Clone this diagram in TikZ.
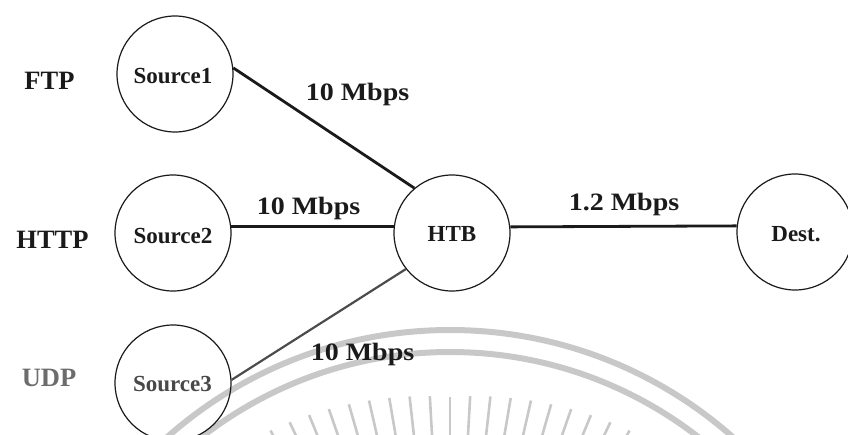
\documentclass[tikz,border=0pt]{standalone}
\usepackage{fontspec}
\setmainfont{Liberation Serif}
\newfontfamily\widefont[FakeStretch=1.12]{Liberation Serif}

\definecolor{ink}{HTML}{1A1A1A}
\definecolor{dimink}{HTML}{6C6C6C}
\definecolor{sealgrey}{HTML}{C8C8C8}

\tikzset{
  host/.style={circle, draw=ink, line width=1.2pt, minimum size=116pt, inner sep=0pt},
  hostname/.style={anchor=base, inner sep=0pt, text=ink,
    font=\fontsize{23}{23}\selectfont\bfseries},
  traffic/.style={anchor=base, inner sep=0pt, text=ink,
    font=\fontsize{26.5}{26.5}\selectfont\bfseries},
  rate/.style={anchor=base, inner sep=0pt, text=ink,
    font=\widefont\fontsize{25}{25}\selectfont\bfseries},
  link/.style={draw=ink, line width=2.8pt},
}

\begin{document}
\begin{tikzpicture}[x=1pt, y=-1pt]
  \useasboundingbox (0,0) rectangle (848,434);
  \clip (0,0) rectangle (848,434);

  % faint seal behind the network: two rings and a sunburst
  % (y grows downwards here, so the angle -90 points up the page)
  \coordinate (seal) at (450,757);
  \draw[sealgrey, line width=6pt] (seal) circle (427);
  \draw[sealgrey, line width=6pt] (seal) circle (405);
  \foreach \k in {-9,...,9}
    \draw[sealgrey, line width=2.6pt]
      ([shift={(seal)}]-90+3.2*\k:318) -- ([shift={(seal)}]-90+3.2*\k:{360+1.4*abs(\k)});

  % hosts
  \node[host] (s1)   at (175,74)  {};
  \node[host] (s2)   at (173,233) {};
  \node[host] (s3)   at (173,383) {};
  \node[host] (htb)  at (452,233) {};
  \node[host] (dest) at (795,232) {};

  \node[hostname] (s1name)   at (173,83.3)  {Source1};
  \node[hostname] (s2name)   at (173,243.3) {Source2};
  \node[hostname, text=ink!80] (s3name) at (172.5,391.7) {Source3};
  \node[hostname] (htbname)  at (452,241.7) {HTB};
  \node[hostname] (destname) at (796,241.7) {Dest.};

  % traffic types
  \node[traffic] (ftp)  at (49.5,89.3)  {FTP};
  \node[traffic] (http) at (52.5,248.3) {HTTP};
  \node[traffic, text=dimink] (udp) at (49,386.7) {UDP};

  % links
  \draw[link] (s1.6) -- (htb.130);
  \draw[link] (s2.6) -- (htb.174);
  \draw[link, draw=ink!78, line width=2.2pt] (s3.3) -- (htb.218);
  \draw[link] (htb.6) -- (dest.174);

  % link rates
  \node[rate] (r1) at (357.5,100)  {10 Mbps};
  \node[rate] (r2) at (308.5,214)  {10 Mbps};
  \node[rate] (r3) at (362.5,360)  {10 Mbps};
  \node[rate] (r4) at (624,210)    {1.2 Mbps};
\end{tikzpicture}
\end{document}
